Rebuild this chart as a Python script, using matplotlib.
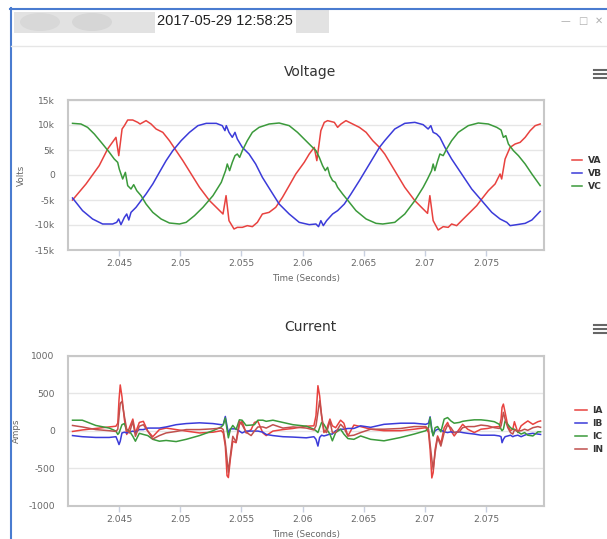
import matplotlib.pyplot as plt
from matplotlib.lines import Line2D
from matplotlib.patches import Rectangle, Ellipse

plt.rcParams['font.family'] = ['DejaVu Sans']

# ---- voltage data (time in s, volts) ----
va_t = [2.0412, 2.0423, 2.04338, 2.04407, 2.04475, 2.04498, 2.04525, 2.04544, 2.04571, 2.04612,
        2.04653, 2.04672, 2.04721, 2.04762, 2.04803, 2.04858, 2.04912, 2.04967, 2.05022, 2.0509,
        2.05158, 2.0524, 2.05309, 2.0535, 2.05375, 2.05399, 2.0544, 2.05467, 2.05508, 2.05549,
        2.0559, 2.05631, 2.05672, 2.05727, 2.05781, 2.05836, 2.05891, 2.05945, 2.06014, 2.06055,
        2.06096, 2.06117, 2.0615, 2.06178, 2.06205, 2.0626, 2.06287, 2.06314, 2.06355, 2.0641,
        2.06465, 2.0652, 2.06574, 2.06629, 2.06672, 2.06754, 2.06836, 2.06918, 2.06986, 2.07022,
        2.07041, 2.07068, 2.07109, 2.0715, 2.07191, 2.07219, 2.0726, 2.07314, 2.07369, 2.07424,
        2.07465, 2.07519, 2.07574, 2.07615, 2.07628, 2.07656, 2.07697, 2.07738, 2.07779, 2.0782,
        2.07861, 2.07902, 2.07943]
va_v = [-5000, -1800, 1870, 5200, 7530, 3870, 9200, 9870, 11000, 11000,
        10530, 10200, 10870, 10200, 9200, 8530, 6870, 4870, 2870, 200,
        -2470, -5130, -6800, -7800, -4130, -9130, -10800, -10470, -10470, -10130,
        -10330, -9470, -7800, -7470, -6470, -4470, -2130, 200, 2530, 4200,
        5530, 2870, 8870, 10530, 10870, 10530, 9530, 10200, 10870, 10200,
        9530, 8530, 6870, 5530, 4200, 870, -2470, -5130, -6800, -7670,
        -4130, -9130, -11000, -10330, -10470, -9800, -10130, -8800, -7470, -6130,
        -4800, -3130, -1800, 200, -800, 3200, 5530, 6200, 6530, 7530,
        8870, 9870, 10200]

vb_t = [2.0412, 2.04202, 2.04284, 2.04366, 2.04448, 2.04481, 2.04497, 2.04516, 2.04544, 2.04563,
        2.0458, 2.04598, 2.04639, 2.0468, 2.04721, 2.04776, 2.0483, 2.04885, 2.0494, 2.05008,
        2.05076, 2.05145, 2.05213, 2.05295, 2.05344, 2.05366, 2.05377, 2.05399, 2.05426, 2.05448,
        2.05467, 2.05508, 2.05563, 2.05617, 2.05672, 2.0574, 2.05809, 2.05891, 2.05973, 2.06055,
        2.0611, 2.06131, 2.0615, 2.0617, 2.06197, 2.06246, 2.06287, 2.06342, 2.06396, 2.06465,
        2.06547, 2.06629, 2.06672, 2.06754, 2.06836, 2.06918, 2.06986, 2.07027, 2.07049, 2.07068,
        2.07096, 2.07123, 2.07164, 2.07219, 2.07301, 2.07383, 2.07465, 2.07547, 2.07615, 2.07642,
        2.0767, 2.07697, 2.07752, 2.0782, 2.07875, 2.07943]
vb_v = [-4600, -7130, -8800, -9800, -9800, -9470, -8800, -9930, -8470, -7800,
        -9000, -7470, -6470, -5130, -3800, -1800, 530, 2870, 4870, 6870,
        8530, 9870, 10330, 10330, 9870, 8870, 9870, 8530, 7530, 8530,
        7200, 5530, 4200, 2200, -470, -3130, -5800, -7800, -9470, -9930,
        -9800, -10330, -9130, -10130, -9130, -7800, -7130, -5800, -3800, -1130,
        2200, 5530, 6870, 9200, 10330, 10530, 10070, 9200, 9870, 8530,
        8200, 7530, 5530, 3200, 200, -2800, -5130, -7470, -8800, -9130,
        -9470, -10130, -9930, -9670, -9000, -7270]

vc_t = [2.0412, 2.04189, 2.04243, 2.04298, 2.04366, 2.04421, 2.04461, 2.04489, 2.04502, 2.0453,
        2.04552, 2.04571, 2.04598, 2.0462, 2.04645, 2.0468, 2.04721, 2.04776, 2.04844, 2.04912,
        2.04994, 2.05049, 2.05117, 2.05186, 2.05268, 2.05336, 2.05371, 2.05385, 2.05404, 2.05426,
        2.05448, 2.05467, 2.05486, 2.05508, 2.05549, 2.0559, 2.05645, 2.05727, 2.05809, 2.05891,
        2.05959, 2.06027, 2.06082, 2.0611, 2.06137, 2.06164, 2.06186, 2.06205, 2.06224, 2.06246,
        2.06268, 2.06287, 2.06328, 2.06383, 2.06437, 2.0652, 2.06601, 2.06656, 2.06754, 2.06836,
        2.06918, 2.06986, 2.07022, 2.07055, 2.07068, 2.07082, 2.07101, 2.07123, 2.0715, 2.07178,
        2.07219, 2.07273, 2.07355, 2.07437, 2.07519, 2.07588, 2.07623, 2.07642, 2.07662, 2.07683,
        2.07724, 2.07765, 2.0782, 2.07875, 2.07943]
vc_v = [10330, 10200, 9530, 8200, 6200, 4530, 3200, 2530, 1200, -800,
        530, -2130, -2800, -1930, -3130, -4130, -5800, -7470, -8800, -9600,
        -9800, -9470, -8130, -6470, -4130, -1470, 870, 2200, 870, 2530,
        3870, 4200, 3530, 4870, 6870, 8530, 9530, 10200, 10400, 9870,
        8530, 6870, 5530, 4870, 3530, 1870, 870, 1530, -130, -1130,
        -1470, -2470, -3800, -5470, -7130, -8800, -9670, -9800, -9470, -7800,
        -5130, -2470, -800, 870, 2200, 870, 2530, 4200, 3870, 5200,
        6870, 8530, 9870, 10400, 10200, 9530, 9000, 7530, 7870, 6200,
        4870, 3870, 2200, 200, -2130]

# ---- current data (time in s, amps) ----
i_t = [2.0412, 2.0420, 2.0431, 2.0442, 2.04475, 2.0449, 2.0450, 2.0451, 2.04524, 2.04544,
       2.04563, 2.04585, 2.04613, 2.04634, 2.04666, 2.04699, 2.04735, 2.04776, 2.0483, 2.04885,
       2.04967, 2.05049, 2.05158, 2.05268, 2.05336, 2.05352, 2.05369, 2.05383, 2.05394, 2.0541,
       2.0543, 2.05457, 2.05484, 2.05506, 2.05539, 2.0558, 2.05607, 2.05635, 2.05676, 2.05703,
       2.05758, 2.0584, 2.05922, 2.06031, 2.06093, 2.0611, 2.06126, 2.0614, 2.06156, 2.06175,
       2.06197, 2.06224, 2.06244, 2.06271, 2.06311, 2.06338, 2.06371, 2.0642, 2.06475, 2.06557,
       2.06666, 2.06803, 2.06912, 2.07008, 2.0703, 2.07043, 2.07057, 2.07068, 2.07084, 2.07104,
       2.07131, 2.07158, 2.07186, 2.07213, 2.0724, 2.07281, 2.07309, 2.0735, 2.07404, 2.07459,
       2.07514, 2.07568, 2.07609, 2.07623, 2.07631, 2.07642, 2.07656, 2.07678, 2.077, 2.07719,
       2.07732, 2.0776, 2.07787, 2.07815, 2.07842, 2.07883, 2.07924, 2.07946]
ia = [-10, 10, 30, 50, 60, 100, 410, 610, 455, 150,
      -50, 40, 155, -30, 110, 125, -5, -80, 15, 35,
      15, -5, -30, -20, 0, -30, -205, -600, -625, -380,
      -140, -160, 80, 125, -30, 15, 110, 125, -30, -65,
      -5, 15, 30, 60, 65, 200, 600, 465, 200, -25,
      20, 155, 65, 40, 140, 100, -70, 75, 55, 20,
      0, 0, 20, 40, -25, -250, -630, -560, -250, -70,
      -170, 40, 110, 0, -70, 20, 85, 20, -25, 20,
      30, 50, 55, 155, 310, 355, 245, 65, 0, 20,
      120, -25, 65, 100, 130, 85, 120, 130]
ib = [-65, -80, -90, -90, -80, -140, -185, -140, -30, -20,
      -30, -20, -5, -20, 15, 15, 35, 35, 35, 50,
      80, 95, 105, 95, 80, 80, 190, 60, -30, 25,
      25, 25, -5, -30, -5, -5, -5, -5, -20, -50,
      -65, -80, -85, -95, -80, -115, -205, -90, -60, -70,
      -60, -45, -45, 0, 20, 20, 30, 30, 65, 45,
      85, 100, 100, 85, 100, 185, 20, -60, 0, 20,
      10, -15, -25, -15, -25, -15, -25, -35, -45, -60,
      -60, -60, -70, -80, -160, -115, -80, -70, -60, -80,
      -70, -60, -80, -60, -45, -35, -45, -50]
ic = [140, 140, 70, 35, -5, -50, -30, 15, 80, 95,
      15, -5, -75, -140, -35, -50, -65, -115, -140, -130,
      -145, -115, -65, 0, 50, 80, 170, 15, -95, 15,
      70, 15, 145, 140, 70, 75, 80, 140, 140, 125,
      140, 110, 80, 60, 20, 0, -25, 40, 110, 85,
      20, -45, -135, -25, 20, -45, -105, -115, -70, -115,
      -135, -90, -45, 0, 40, 175, 0, -70, 40, 55,
      -15, 155, 175, 130, 100, 110, 125, 135, 145, 145,
      135, 120, 85, 20, 0, 20, 130, 85, 40, 20,
      20, -15, -45, -25, -60, -70, -15, -15]
i_n = [70, 50, 15, 0, -10, 20, 190, 365, 390, 190,
       15, -30, 125, -75, 60, 80, -5, -110, -65, -30,
       -10, 15, 15, 25, 35, 15, -160, -380, -555, -335,
       -75, -150, 125, 80, -20, -65, -5, 50, 50, 35,
       80, 35, 50, 35, 10, 65, 245, 400, 200, 0,
       -25, 130, -25, -25, 85, 40, -70, -60, -25, 20,
       20, 30, 55, 55, 20, -180, -380, -515, -295, -90,
       -205, -25, 75, 40, -25, -15, 40, 55, 55, 75,
       65, 40, 30, 65, 130, 245, 155, 40, -25, -45,
       10, -5, 0, 20, 5, 40, 55, 45]

x_ticks = [2.045, 2.05, 2.055, 2.06, 2.065, 2.07, 2.075]
x_labels = ['2.045', '2.05', '2.055', '2.06', '2.065', '2.07', '2.075']
v_ticks = [-15000, -10000, -5000, 0, 5000, 10000, 15000]
v_labels = ['-15k', '-10k', '-5k', '0', '5k', '10k', '15k']
i_ticks = [-1000, -500, 0, 500, 1000]
i_labels = ['-1000', '-500', '0', '500', '1000']

RED, BLUE, GREEN, BROWN = '#e8423f', '#3b3bd9', '#3b9a3b', '#c0504d'

W, H = 607, 539
fig = plt.figure(figsize=(W / 100, H / 100), dpi=100)


def fx(px):
    return px / W


def fy(py):
    return 1 - py / H


# window chrome (title bar with blurred-out parts)
fig.add_artist(Rectangle((fx(14), fy(33)), 141 / W, 21 / H, color='#e2e2e2', lw=0))
fig.add_artist(Ellipse((fx(40), fy(22)), 40 / W, 18 / H, color='#d8d8d8', lw=0))
fig.add_artist(Ellipse((fx(92), fy(22)), 40 / W, 18 / H, color='#d6d6d6', lw=0))
fig.add_artist(Rectangle((fx(296), fy(33)), 33 / W, 23 / H, color='#e2e2e2', lw=0))
fig.text(fx(157), fy(21), '2017-05-29 12:58:25', ha='left', va='center', fontsize=10.5,
         color='#222222', family=['Liberation Sans'])
fig.text(fx(565), fy(21), '\u2014', ha='center', va='center', fontsize=7, color='#b0b0b0')
fig.text(fx(583), fy(21), '\u25a1', ha='center', va='center', fontsize=7, color='#b0b0b0')
fig.text(fx(599), fy(21), '\u2715', ha='center', va='center', fontsize=7, color='#b0b0b0')
fig.add_artist(Line2D([fx(10), 1], [fy(8.5), fy(8.5)], color='#4a7cd0', lw=1.5))
fig.add_artist(Line2D([fx(10.5), fx(10.5)], [fy(8), 0], color='#4a7cd0', lw=1.5))
fig.add_artist(Line2D([fx(11), 1], [fy(45.5), fy(45.5)], color='#e6e6e6', lw=1))

# chart titles + menu icons
for title, ty in [('Voltage', 72), ('Current', 327)]:
    fig.text(fx(310), fy(ty), title, ha='center', va='center', fontsize=10, color='#333333')
    for dy in (-4, 0, 4):
        fig.add_artist(Line2D([fx(594), fx(606)], [fy(ty + 2 + dy)] * 2, color='#666666', lw=1.5))

axV = fig.add_axes([fx(68), fy(250), 476 / W, 150 / H])
axI = fig.add_axes([fx(68), fy(505.7), 476 / W, 150 / H])


def style(ax, ylim, yticks, ylabels, ylabel, ylab_x):
    ax.set_xlim(2.04083, 2.07974)
    ax.set_ylim(*ylim)
    ax.set_xticks(x_ticks, x_labels)
    ax.set_yticks(yticks, ylabels)
    ax.grid(axis='y', color='#e6e6e6', lw=1)
    ax.set_axisbelow(True)
    for s in ax.spines.values():
        s.set_color('#c8c8c8')
        s.set_linewidth(1.5)
    ax.tick_params(axis='y', length=0, pad=9.5, labelsize=6.6, labelcolor='#666666')
    ax.tick_params(axis='x', length=4, width=1, color='#c8d0e0', pad=2.5, labelsize=6.6,
                   labelcolor='#666666')
    ax.set_xlabel('Time (Seconds)', fontsize=6.3, color='#666666', va='center')
    ax.xaxis.set_label_coords(0.5, -28.3 / 150)
    ax.set_ylabel(ylabel, fontsize=6.3, color='#666666', va='center')
    ax.yaxis.set_label_coords(ylab_x, 0.5)


axV.plot(va_t, va_v, color=RED, lw=1.1, label='VA')
axV.plot(vb_t, vb_v, color=BLUE, lw=1.1, label='VB')
axV.plot(vc_t, vc_v, color=GREEN, lw=1.1, label='VC')
style(axV, (-15000, 15000), v_ticks, v_labels, 'Volts', (21.7 - 68) / 476)

axI.plot(i_t, ia, color=RED, lw=1.1, label='IA')
axI.plot(i_t, ib, color=BLUE, lw=1.1, label='IB')
axI.plot(i_t, ic, color=GREEN, lw=1.1, label='IC')
axI.plot(i_t, i_n, color=BROWN, lw=1.1, label='IN')
style(axI, (-1000, 1000), i_ticks, i_labels, 'Amps', (16.7 - 68) / 476)

for ax, x0, cy, hl, tp in [(axV, 571.7, 173.5, 1.1, 0.7), (axI, 575, 430, 1.3, 0.55)]:
    leg = ax.legend(loc='center left', bbox_to_anchor=(fx(x0), fy(cy)), bbox_transform=fig.transFigure,
                    frameon=False, borderpad=0, borderaxespad=0, handlelength=hl, handletextpad=tp,
                    labelspacing=0.45, prop={'size': 6.6, 'weight': 'bold'})
    for txt in leg.get_texts():
        txt.set_color('#333333')

fig.savefig('out.png', dpi=100)
